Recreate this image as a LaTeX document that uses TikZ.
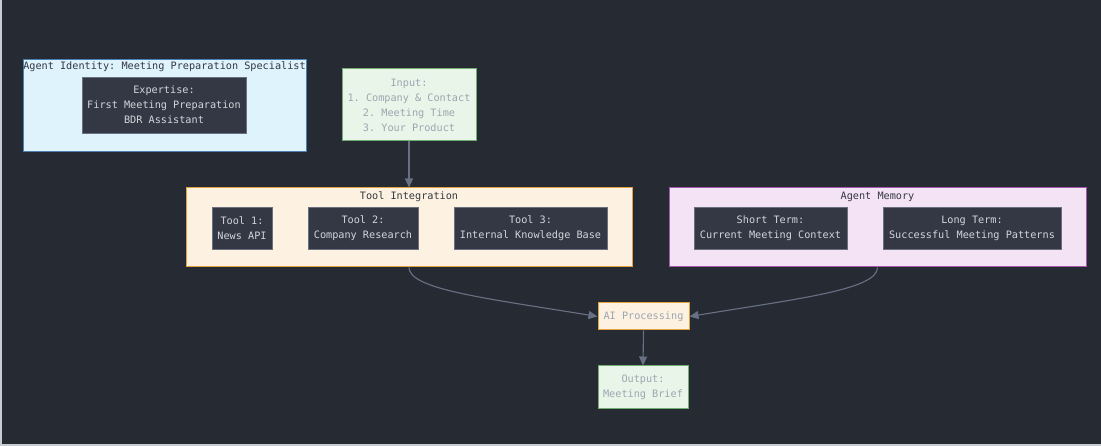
\documentclass[tikz,border=0pt]{standalone}
\usepackage{fontspec}
\setmonofont{DejaVu Sans Mono}
\usetikzlibrary{arrows.meta}
\definecolor{bg}{HTML}{262A33}
\definecolor{darkbox}{HTML}{333844}
\definecolor{darkedge}{HTML}{6A7080}
\definecolor{lighttxt}{HTML}{D2D6DC}
\definecolor{graytxt}{HTML}{9EA5B1}
\definecolor{titletxt}{HTML}{333842}
\definecolor{bluefill}{HTML}{DFF3FD}
\definecolor{blueedge}{HTML}{4A80B4}
\definecolor{greenfill}{HTML}{E8F5E8}
\definecolor{greenedge}{HTML}{72AE72}
\definecolor{orangefill}{HTML}{FDF2E1}
\definecolor{orangeedge}{HTML}{E3A040}
\definecolor{purplefill}{HTML}{F3E3F4}
\definecolor{purpleedge}{HTML}{A458AA}
\definecolor{arrowc}{HTML}{687184}
\definecolor{framec}{HTML}{C8CCD2}
\tikzset{
  every node/.style={font=\ttfamily\fontsize{10.2}{15}\selectfont, inner sep=0pt, align=center},
  inbox/.style={draw=darkedge, fill=darkbox, text=lighttxt, line width=0.8pt, minimum height=42pt},
  groupbox/.style={line width=1pt},
  grouptitle/.style={text=titletxt},
  flowbox/.style={line width=1pt, text=graytxt},
  conn/.style={draw=arrowc, line width=1.1pt, -{Triangle[length=9pt,width=8pt]}},
}
\begin{document}
\begin{tikzpicture}[x=1pt,y=-1pt]
\fill[bg] (0,0) rectangle (1101,446);
\fill[framec] (0,0) rectangle (2,446);
\fill[framec] (0,444) rectangle (1101,446);
\useasboundingbox (0,0) rectangle (1101,446);

% identity
\node[groupbox, draw=blueedge, fill=bluefill, minimum width=283pt, minimum height=92pt] (ident) at (164.5,106) {};
\node[grouptitle] (identt) at (164.5,66.5) {Agent Identity: Meeting Preparation Specialist};
\node[inbox, minimum width=164pt, minimum height=56pt] (expert) at (164,105) {Expertise:\\First Meeting Preparation\\BDR Assistant};

% input
\node[flowbox, draw=greenedge, fill=greenfill, minimum width=134pt, minimum height=72pt] (input) at (409,105) {Input:\\1. Company \& Contact\\2. Meeting Time\\3. Your Product};

% tool integration
\node[groupbox, draw=orangeedge, fill=orangefill, minimum width=446pt, minimum height=79pt] (tools) at (409,227.5) {};
\node[grouptitle] (toolst) at (409,196.5) {Tool Integration};
\node[inbox, minimum width=60pt] (t1) at (242,228) {Tool 1:\\News API};
\node[inbox, minimum width=110pt] (t2) at (363,228) {Tool 2:\\Company Research};
\node[inbox, minimum width=153pt] (t3) at (530.5,228) {Tool 3:\\Internal Knowledge Base};

% memory
\node[groupbox, draw=purpleedge, fill=purplefill, minimum width=417pt, minimum height=79pt] (mem) at (877.5,227.5) {};
\node[grouptitle] (memt) at (877.5,196.5) {Agent Memory};
\node[inbox, minimum width=153pt] (short) at (770.5,228) {Short Term:\\Current Meeting Context};
\node[inbox, minimum width=178pt] (long) at (972,228) {Long Term:\\Successful Meeting Patterns};

% processing and output
\node[flowbox, draw=orangeedge, fill=orangefill, minimum width=91pt, minimum height=27pt] (ai) at (643.5,316.5) {AI Processing};
\node[flowbox, draw=greenedge, fill=greenfill, minimum width=90pt, minimum height=42pt] (out) at (643,387) {Output:\\Meeting Brief};

% connectors
\draw[conn] (input.south) -- (tools.north);
\draw[conn] (tools.south) .. controls +(0,22) and +(-110,-18) .. (ai.west);
\draw[conn] (mem.south) .. controls +(0,22) and +(110,-18) .. (ai.east);
\draw[conn] (ai.south) -- (out.north);
\end{tikzpicture}
\end{document}
